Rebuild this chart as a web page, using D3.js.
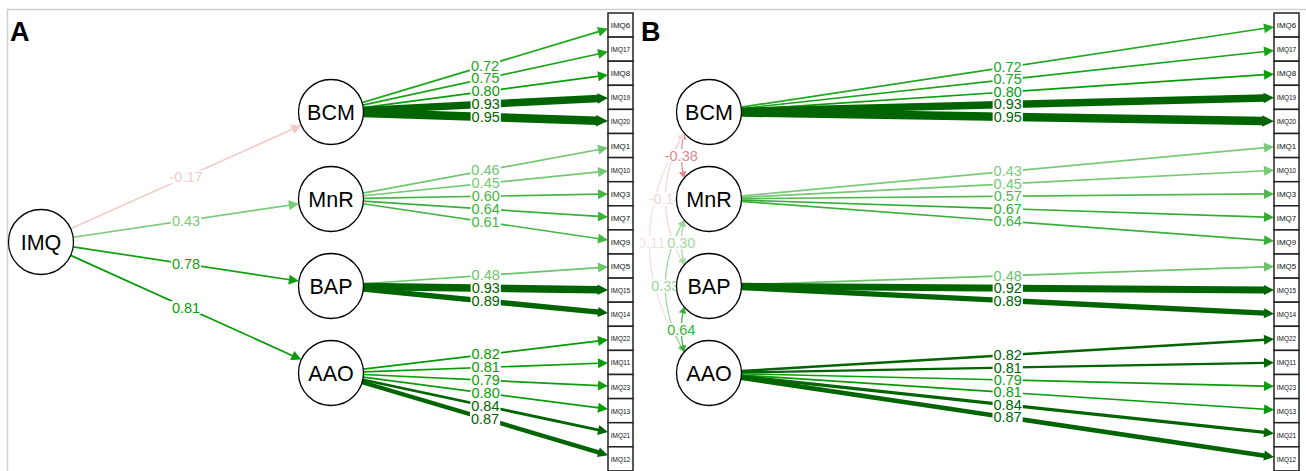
<!DOCTYPE html>
<html>
<head>
<meta charset="utf-8">
<script src="https://cdn.jsdelivr.net/npm/d3@7"></script>
<style>
  body { margin: 0; background: #fff; }
  text { font-family: "Liberation Sans", Arial, sans-serif; }
</style>
</head>
<body>
<svg id="chart" width="1306" height="471"></svg>
<script>
// factors and their items, in drawing order (top to bottom)
var latents = ['BCM', 'MnR', 'BAP', 'AAO']
var items = [
  ['IMQ6', 'IMQ17', 'IMQ8', 'IMQ19', 'IMQ20'],
  ['IMQ1', 'IMQ10', 'IMQ3', 'IMQ7', 'IMQ9'],
  ['IMQ5', 'IMQ15', 'IMQ14'],
  ['IMQ22', 'IMQ11', 'IMQ23', 'IMQ13', 'IMQ21', 'IMQ12']
]

// panel A: second order model
var secondOrderName = 'IMQ'
var secondOrder = [-0.17, 0.43, 0.78, 0.81]
var loadingsA = [
  [0.72, 0.75, 0.80, 0.93, 0.95],
  [0.46, 0.45, 0.60, 0.64, 0.61],
  [0.48, 0.93, 0.89],
  [0.82, 0.81, 0.79, 0.80, 0.84, 0.87]
]

// panel B: correlated factors
var loadingsB = [
  [0.72, 0.75, 0.80, 0.93, 0.95],
  [0.43, 0.45, 0.57, 0.67, 0.64],
  [0.48, 0.92, 0.89],
  [0.82, 0.81, 0.79, 0.81, 0.84, 0.87]
]
// unrounded weights used for edge width / colour in B
var weightsB = [
  [0.72, 0.75, 0.80, 0.93, 0.95],
  [0.43, 0.45, 0.57, 0.67, 0.64],
  [0.48, 0.92, 0.89],
  [0.836, 0.832, 0.79, 0.81, 0.85, 0.875]
]
var corrPairs = [['BCM', 'MnR'], ['BCM', 'BAP'], ['BCM', 'AAO'], ['MnR', 'BAP'], ['MnR', 'AAO'], ['BAP', 'AAO']]
var corrValues = [-0.38, -0.14, -0.11, 0.30, 0.33, 0.64]

var allItems = [].concat.apply([], items)

var svg = d3.select('#chart')
var fmt = d3.formatLocale({decimal: '.', thousands: ',', grouping: [3], currency: ['', ''], minus: '-'}).format('.2f')

var rowScale = d3.scaleBand().domain(allItems).range([13, 13 + allItems.length * 24.1])
var latY = d3.scalePoint().domain(latents).range([112, 373])

var R = 32.5
var cut = 0.83
var posCol = ['#009900', '#006400']
var negCol = ['#bf0000', '#ff0000']
var widthScale = d3.scaleLinear().domain([cut, 0.95]).range([2.2, 8.5])

function colourOf (w) {
  var a = Math.abs(w)
  var cols = w < 0 ? negCol : posCol
  if (a >= cut) return cols[1]
  return d3.interpolateRgb('#ffffff', cols[0])(a / cut)
}
function widthOf (w) {
  var a = Math.abs(w)
  return a >= cut ? widthScale(a) : 1.7
}

// frame
svg.append('rect')
  .attr('x', 7.5).attr('y', 9.5).attr('width', 1400).attr('height', 600)
  .attr('fill', 'none').attr('stroke', '#cfcfcf').attr('stroke-width', 1.5)

svg.append('defs').append('clipPath').attr('id', 'clipB')
  .append('rect').attr('x', 640).attr('y', 10).attr('width', 700).attr('height', 470)

function arrowEdge (g, sx, sy, tx, ty, col, w) {
  var dx = tx - sx, dy = ty - sy
  var len = Math.hypot(dx, dy)
  var ux = dx / len, uy = dy / len
  var L = Math.max(10, w * 1.4)
  var H = Math.max(5, w / 2 + 1.5)
  var bx = tx - ux * L, by = ty - uy * L
  g.append('line')
    .attr('x1', sx).attr('y1', sy)
    .attr('x2', bx + ux).attr('y2', by + uy)
    .attr('stroke', col).attr('stroke-width', w)
  g.append('path')
    .attr('d', 'M' + tx + ',' + ty +
      'L' + (bx - uy * H) + ',' + (by + ux * H) +
      'L' + (bx + uy * H) + ',' + (by - ux * H) + 'Z')
    .attr('fill', col)
}

function edgeLabel (g, x, y, v, w) {
  var lg = g.append('g')
  var rect = lg.append('rect').attr('fill', '#fff')
  var t = lg.append('text')
    .attr('x', x).attr('y', y)
    .attr('text-anchor', 'middle')
    .attr('dominant-baseline', 'central')
    .attr('font-size', 14.5)
    .attr('fill', colourOf(w))
    .text(fmt(v))
  var bb = t.node().getBBox()
  rect.attr('x', bb.x - 1).attr('y', y - 6.5).attr('width', bb.width + 2).attr('height', 13)
}

function circleNode (g, x, y, name) {
  g.append('circle').attr('cx', x).attr('cy', y).attr('r', R)
    .attr('fill', '#fff').attr('stroke', '#000').attr('stroke-width', 1.3)
  g.append('text').attr('x', x).attr('y', y + 1)
    .attr('text-anchor', 'middle').attr('dominant-baseline', 'central')
    .attr('font-size', 21.5).attr('fill', '#000').text(name)
}

function itemBoxes (g, bx) {
  var bw = 25
  allItems.forEach(function (name) {
    var y = rowScale(name)
    g.append('rect').attr('x', bx).attr('y', y)
      .attr('width', bw).attr('height', rowScale.bandwidth())
      .attr('fill', '#fff').attr('stroke', '#222').attr('stroke-width', 1.5)
    var t = g.append('text').attr('x', bx + bw / 2).attr('y', y + rowScale.bandwidth() / 2 + 0.5)
      .attr('text-anchor', 'middle').attr('dominant-baseline', 'central')
      .attr('font-size', 10).attr('fill', '#111').text(name)
    var tl = t.node().getComputedTextLength()
    t.attr('font-size', Math.min(8.2, 10 * 19.5 / tl))
  })
}

// loadings from factors to item boxes; returns label jobs
function loadingEdges (g, lx, bx, loads, weights) {
  var labels = []
  latents.forEach(function (lat, i) {
    var cy = latY(lat)
    items[i].forEach(function (name, j) {
      var ty = rowScale(name) + rowScale.bandwidth() / 2
      var tcx = bx + 12.5
      var dx = tcx - lx, dy = ty - cy
      var len = Math.hypot(dx, dy)
      var sx = lx + R * dx / len, sy = cy + R * dy / len
      var ex = bx, ey = cy + dy * (bx - lx) / dx
      var w = weights[i][j]
      arrowEdge(g, sx, sy, ex, ey, colourOf(w), widthOf(w))
      labels.push({x: (sx + ex) / 2, y: (sy + ey) / 2, v: loads[i][j], w: w})
    })
  })
  return labels
}

// ---------- panel A ----------
var gA = svg.append('g')
var ax0 = 41, ay0 = 242, axLat = 331, axBox = 608
var labelsA = loadingEdges(gA, axLat, axBox, loadingsA, loadingsA)
latents.forEach(function (lat, i) {
  var cy = latY(lat)
  var dx = axLat - ax0, dy = cy - ay0
  var len = Math.hypot(dx, dy)
  var ux = dx / len, uy = dy / len
  var sx = ax0 + R * ux, sy = ay0 + R * uy
  var ex = axLat - R * ux, ey = cy - R * uy
  var w = secondOrder[i]
  arrowEdge(gA, sx, sy, ex, ey, colourOf(w), widthOf(w))
  labelsA.push({x: (sx + ex) / 2, y: (sy + ey) / 2, v: w, w: w})
})
labelsA.forEach(function (d) { edgeLabel(gA, d.x, d.y, d.v, d.w) })
circleNode(gA, ax0, ay0, secondOrderName)
latents.forEach(function (lat) { circleNode(gA, axLat, latY(lat), lat) })
itemBoxes(gA, axBox)
gA.append('text').attr('x', 10).attr('y', 41)
  .attr('font-size', 27).attr('font-weight', 'bold').text('A')

// ---------- panel B ----------
var gB = svg.append('g').attr('clip-path', 'url(#clipB)')
var bxLat = 709, bxBox = 1274
var ang = 50 * Math.PI / 180
var offX = -R * Math.sin(ang), offY = R * Math.cos(ang)
var corrLabels = []
corrPairs.forEach(function (p, k) {
  var S = [bxLat + offX, latY(p[0]) + offY]
  var E = [bxLat + offX, latY(p[1]) - offY]
  var d = E[1] - S[1]
  var bulge = 0.368 * d - 11
  var C = [(S[0] + E[0]) / 2 - bulge, (S[1] + E[1]) / 2]
  var w = corrValues[k]
  var col = colourOf(w)
  gB.append('path')
    .attr('d', 'M' + S + 'Q' + C + ' ' + E)
    .attr('fill', 'none').attr('stroke', col).attr('stroke-width', 1.2)
  ;[[S, C], [E, C]].forEach(function (pc) {
    var tip = pc[0], c = pc[1]
    var dx = tip[0] - c[0], dy = tip[1] - c[1]
    var len = Math.hypot(dx, dy)
    var ux = dx / len, uy = dy / len
    var L = 6.5, H = 3.8
    var bx = tip[0] - ux * L, by = tip[1] - uy * L
    gB.append('path')
      .attr('d', 'M' + tip + 'L' + (bx - uy * H) + ',' + (by + ux * H) +
        'L' + (bx + uy * H) + ',' + (by - ux * H) + 'Z')
      .attr('fill', col)
  })
  corrLabels.push({
    x: 0.25 * S[0] + 0.5 * C[0] + 0.25 * E[0],
    y: 0.25 * S[1] + 0.5 * C[1] + 0.25 * E[1],
    v: w, w: w
  })
})
var labelsB = loadingEdges(gB, bxLat, bxBox, loadingsB, weightsB)
corrLabels.concat(labelsB).forEach(function (d) { edgeLabel(gB, d.x, d.y, d.v, d.w) })
latents.forEach(function (lat) { circleNode(gB, bxLat, latY(lat), lat) })
itemBoxes(gB, bxBox)
svg.append('text').attr('x', 641).attr('y', 41)
  .attr('font-size', 27).attr('font-weight', 'bold').text('B')
</script>
</body>
</html>
